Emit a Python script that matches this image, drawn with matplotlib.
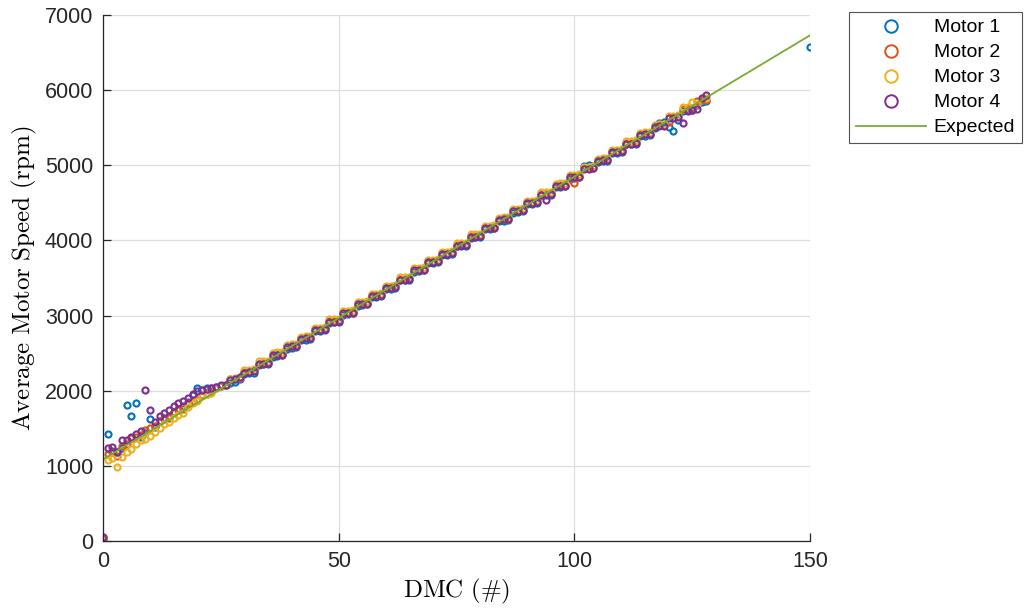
#!/usr/bin/env python3
"""Average motor speed vs DMC command, four motors plus expected line."""

import matplotlib
matplotlib.use('Agg')
import matplotlib.pyplot as plt
from matplotlib.lines import Line2D

# DMC command values (same grid for every motor)
dmc = [0, 1, 2, 3, 4, 5, 6, 7, 8, 9, 10, 11, 12, 13, 14, 15, 16, 17, 18, 19,
       20, 21, 22, 23, 24, 25, 26, 27, 28, 29, 30, 31, 32, 33, 34, 35, 36, 37,
       38, 39, 40, 41, 42, 43, 44, 45, 46, 47, 48, 49, 50, 51, 52, 53, 54, 55,
       56, 57, 58, 59, 60, 61, 62, 63, 64, 65, 66, 67, 68, 69, 70, 71, 72, 73,
       74, 75, 76, 77, 78, 79, 80, 81, 82, 83, 84, 85, 86, 87, 88, 89, 90, 91,
       92, 93, 94, 95, 96, 97, 98, 99, 100, 101, 102, 103, 104, 105, 106, 107,
       108, 109, 110, 111, 112, 113, 114, 115, 116, 117, 118, 119, 120, 121,
       122, 123, 124, 125, 126, 127, 128]

motor1 = [40, 1420, 1200, 1190, 1240, 1810, 1670, 1830, 1380, 1440, 1630, 1520,
          1600, 1640, 1660, 1720, 1760, 1800, 1850, 1940, 2040, 2010, 2030, 2040,
          2050, 2060, 2070, 2100, 2120, 2150, 2220, 2230, 2240, 2340, 2350, 2350,
          2450, 2460, 2470, 2560, 2570, 2580, 2680, 2680, 2690, 2790, 2800, 2810,
          2900, 2910, 2920, 3010, 3020, 3030, 3130, 3140, 3150, 3250, 3250, 3260,
          3360, 3360, 3370, 3470, 3470, 3480, 3580, 3590, 3600, 3700, 3700, 3710,
          3800, 3810, 3820, 3920, 3920, 3930, 4030, 4040, 4050, 4150, 4150, 4160,
          4260, 4260, 4270, 4370, 4380, 4390, 4480, 4490, 4500, 4600, 4600, 4610,
          4710, 4710, 4720, 4820, 4830, 4840, 4990, 5000, 4990, 5050, 5060, 5060,
          5160, 5170, 5180, 5280, 5280, 5290, 5390, 5390, 5400, 5500, 5560, 5570,
          5510, 5450, 5600, 5720, 5730, 5740, 5800, 5840, 5850]
# motor 1 has one extra reading at full command
motor1_extra_dmc = [150]
motor1_extra = [6580]

motor2 = [30, 1160, 1180, 1130, 1270, 1290, 1370, 1390, 1410, 1480, 1500, 1530,
          1600, 1620, 1640, 1720, 1740, 1760, 1840, 1860, 1880, 1940, 1960, 1980,
          2040, 2060, 2080, 2150, 2160, 2170, 2250, 2260, 2270, 2360, 2370, 2380,
          2480, 2490, 2490, 2590, 2600, 2600, 2700, 2710, 2710, 2820, 2820, 2830,
          2930, 2930, 2940, 3040, 3040, 3050, 3160, 3160, 3170, 3270, 3270, 3280,
          3380, 3380, 3390, 3490, 3490, 3500, 3610, 3610, 3620, 3720, 3720, 3730,
          3830, 3830, 3840, 3940, 3950, 3950, 4060, 4060, 4070, 4170, 4170, 4180,
          4280, 4290, 4290, 4400, 4400, 4410, 4510, 4510, 4520, 4620, 4620, 4630,
          4730, 4740, 4740, 4850, 4760, 4860, 4960, 4960, 4970, 5070, 5080, 5080,
          5190, 5190, 5200, 5300, 5300, 5310, 5410, 5420, 5420, 5520, 5530, 5530,
          5580, 5640, 5650, 5750, 5760, 5760, 5860, 5870, 5870]

motor3 = [50, 1080, 1100, 990, 1120, 1180, 1230, 1290, 1340, 1360, 1400, 1450,
          1500, 1560, 1590, 1640, 1680, 1700, 1780, 1830, 1860, 1930, 1950, 1970,
          2040, 2060, 2080, 2160, 2170, 2180, 2270, 2280, 2290, 2390, 2390, 2400,
          2500, 2510, 2510, 2610, 2620, 2620, 2720, 2730, 2730, 2840, 2840, 2850,
          2950, 2950, 2960, 3060, 3060, 3070, 3180, 3180, 3190, 3290, 3290, 3300,
          3400, 3400, 3410, 3510, 3510, 3520, 3630, 3630, 3640, 3740, 3740, 3750,
          3850, 3850, 3860, 3960, 3970, 3970, 4080, 4080, 4090, 4190, 4190, 4200,
          4300, 4310, 4310, 4420, 4420, 4430, 4530, 4530, 4540, 4640, 4640, 4650,
          4750, 4760, 4760, 4870, 4870, 4880, 4980, 4980, 4990, 5090, 5100, 5100,
          5210, 5210, 5220, 5320, 5320, 5330, 5430, 5440, 5440, 5540, 5550, 5550,
          5660, 5660, 5670, 5770, 5780, 5840, 5820, 5890, 5890]

motor4 = [60, 1240, 1250, 1180, 1340, 1340, 1380, 1420, 1460, 2010, 1740, 1580,
          1660, 1700, 1740, 1800, 1830, 1860, 1900, 1960, 1990, 2010, 2020, 2030,
          2050, 2070, 2080, 2140, 2160, 2180, 2240, 2250, 2260, 2360, 2360, 2370,
          2470, 2480, 2480, 2580, 2590, 2590, 2690, 2700, 2700, 2810, 2810, 2820,
          2920, 2920, 2930, 3030, 3030, 3040, 3150, 3150, 3160, 3260, 3260, 3270,
          3370, 3370, 3380, 3480, 3480, 3490, 3600, 3600, 3610, 3710, 3710, 3720,
          3820, 3820, 3830, 3930, 3940, 3940, 4050, 4050, 4060, 4160, 4160, 4170,
          4270, 4280, 4280, 4390, 4390, 4400, 4500, 4500, 4510, 4610, 4540, 4620,
          4720, 4730, 4730, 4840, 4840, 4850, 4950, 4950, 4960, 5060, 5070, 5070,
          5180, 5180, 5190, 5290, 5290, 5300, 5400, 5410, 5410, 5510, 5520, 5520,
          5630, 5630, 5640, 5560, 5720, 5740, 5750, 5900, 5930]

expected_dmc = [0, 150]
expected_rpm = [1087, 6730]

labels = ['Motor 1', 'Motor 2', 'Motor 3', 'Motor 4']
colors = ['#0072BD', '#D95319', '#EDB120', '#7E2F8E']
line_color = '#77AC30'

plt.rcParams['font.family'] = ['Liberation Sans', 'DejaVu Sans']
plt.rcParams['mathtext.fontset'] = 'cm'

fig = plt.figure(figsize=(10.25, 6.1), dpi=100)
ax = fig.add_axes([0.1005, 0.1131, 0.6898, 0.8623])

mk = dict(linestyle='none', marker='o', markerfacecolor='none',
          markersize=4.4, markeredgewidth=1.5)

ax.plot(dmc + motor1_extra_dmc, motor1 + motor1_extra, color=colors[0], **mk)
ax.plot(dmc, motor2, color=colors[1], **mk)
ax.plot(dmc, motor3, color=colors[2], **mk)
ax.plot(dmc, motor4, color=colors[3], **mk)
ax.plot(expected_dmc, expected_rpm, color=line_color, linewidth=1.3)

ax.set_xlim(0, 150)
ax.set_ylim(0, 7000)
ax.set_xticks([0, 50, 100, 150])
ax.set_yticks(range(0, 7001, 1000))
ax.grid(True, color='#dedede', linewidth=0.9)
ax.set_axisbelow(True)

for side in ('top', 'right'):
    ax.spines[side].set_visible(False)
for side in ('left', 'bottom'):
    ax.spines[side].set_color('#262626')
    ax.spines[side].set_linewidth(0.9)
ax.tick_params(direction='in', length=6, width=0.9, colors='#262626',
               labelsize=15.5, pad=7)

ax.set_xlabel(r'$\mathrm{DMC\ (\#)}$', fontsize=18, labelpad=4)
ax.set_ylabel(r'$\mathrm{Average\ Motor\ Speed\ (rpm)}$', fontsize=18, labelpad=4)

handles = [Line2D([], [], linestyle='none', marker='o', markerfacecolor='none',
                  markeredgecolor=c, markersize=9, markeredgewidth=1.4)
           for c in colors]
handles.append(Line2D([], [], color=line_color, linewidth=1.3))
leg = fig.legend(handles, labels + ['Expected'], loc='upper left',
                 bbox_to_anchor=(849 / 1025, 1 - 12 / 610),
                 frameon=True, fancybox=False, fontsize=14,
                 handlelength=3.6, handletextpad=0.4, labelspacing=0.38,
                 borderpad=0.35, borderaxespad=0)
leg.get_frame().set_edgecolor('#262626')
leg.get_frame().set_linewidth(0.8)

fig.savefig('out.png', dpi=100)
